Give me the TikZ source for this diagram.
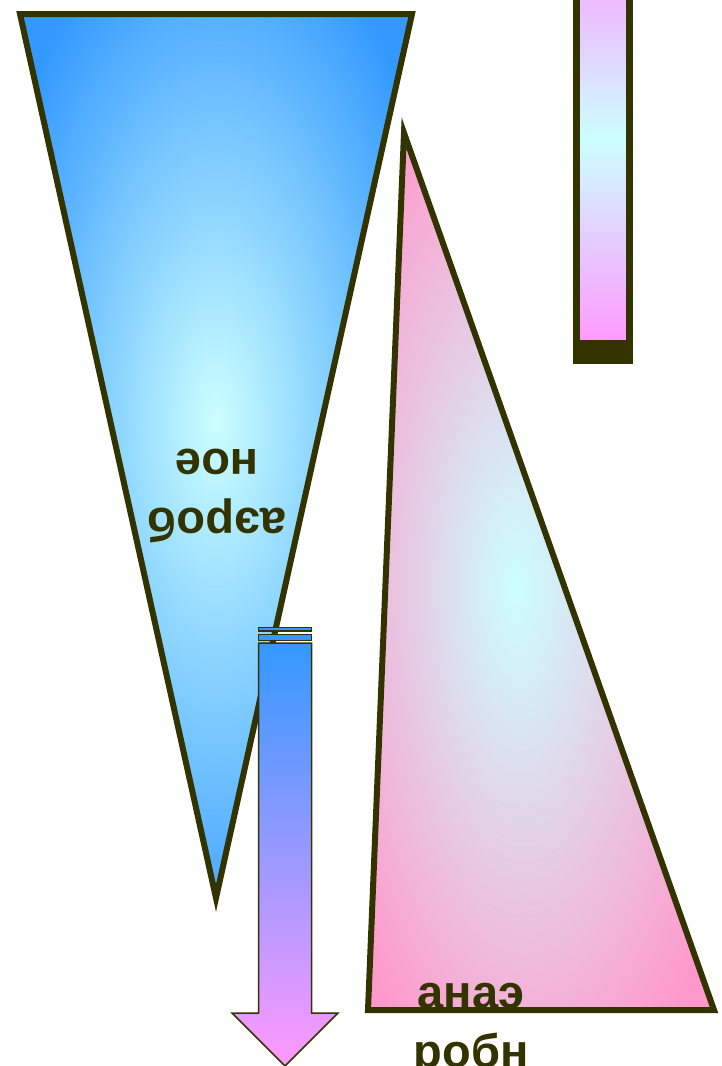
\documentclass[tikz,border=0pt]{standalone}
\usepackage{fontspec}
\setmainfont{Liberation Sans}
\usetikzlibrary{positioning}
\definecolor{darkolive}{HTML}{333300}
\definecolor{skyblue}{HTML}{3399FF}
\definecolor{palecyan}{HTML}{CCFFFF}
\definecolor{rosepink}{HTML}{FF99CC}
\definecolor{lilacpink}{HTML}{FF99FF}
\pgfdeclareradialshading{blueglow}{\pgfpoint{0bp}{2bp}}{color(0bp)=(palecyan); color(31bp)=(skyblue); color(50bp)=(skyblue)}
\pgfdeclareradialshading{pinkglow}{\pgfpoint{-3.8bp}{-1bp}}{color(0bp)=(palecyan); color(32bp)=(rosepink); color(50bp)=(rosepink)}

\begin{document}
\begin{tikzpicture}[
x=1pt, y=-1pt,
outline/.style={draw=darkolive, line width=6pt},
thinline/.style={draw=darkolive, line width=1.5pt},
word/.style={font=\fontsize{47}{59}\selectfont\bfseries, text=darkolive, align=center, inner sep=0pt}
]
\useasboundingbox (0,0) rectangle (721,1066);

% aerobic wedge
\draw[outline, shading=blueglow]
  (20,14) -- (412,14) -- (216,898) -- cycle;

% anaerobic wedge
\draw[outline, shading=pinkglow]
  (404,133) -- (714,1010) -- (368,1010) -- cycle;

% bar
\draw[line width=7pt, draw=darkolive, top color=lilacpink, bottom color=lilacpink, middle color=palecyan]
  (576.5,-65) rectangle (629.5,343);
\fill[darkolive] (573,343) rectangle (633,364);

% arrow
\draw[thinline, fill=skyblue] (258.5,627.5) rectangle (311.5,631);
\draw[thinline, fill=skyblue] (258.5,634.5) rectangle (311.5,640.5);
\draw[thinline, top color=skyblue, bottom color=lilacpink]
  (258.5,643) -- (311.5,643) -- (311.5,1013) -- (338,1013) -- (285,1066)
  -- (232,1013) -- (258.5,1013) -- cycle;

\node[word, rotate=180] (aerob) at (217,495.5) {аэроб\\ное};
\node[word] (anaerob) at (471,1030) {анаэ\\робн};
\end{tikzpicture}
\end{document}
